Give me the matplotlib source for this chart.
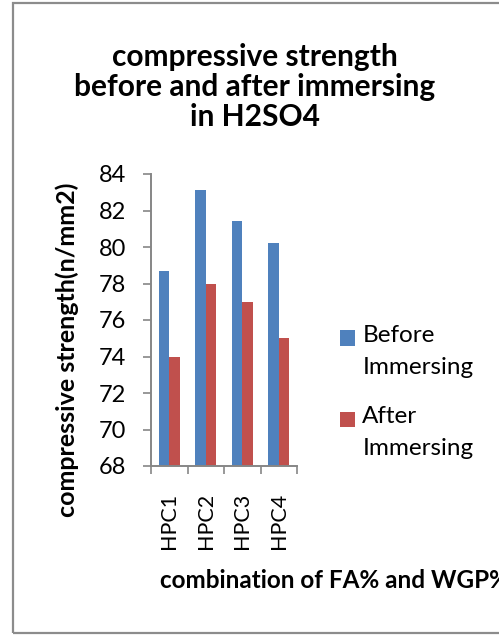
import numpy as np
import matplotlib
matplotlib.use('Agg')
import matplotlib.pyplot as plt
from matplotlib.patches import Rectangle

plt.rcParams['font.family'] = ['Lato', 'DejaVu Sans']

categories = ['HPC1', 'HPC2', 'HPC3', 'HPC4']
before = [78.7, 83.1, 81.4, 80.2]  # before immersing
after = [74.0, 78.0, 77.0, 75.0]   # after immersing
yticks = [68, 70, 72, 74, 76, 78, 80, 82, 84]

W, H = 499, 635
DPI = 100
fig = plt.figure(figsize=(W / DPI, H / DPI), dpi=DPI)

# outer chart border (right edge falls outside the picture)
fig.patches.append(Rectangle((13 / W, 1 - 633 / H), 1.0, 630 / H, transform=fig.transFigure,
                             fill=False, edgecolor='#8c8c8c', linewidth=1.6))

ax = fig.add_axes([151 / W, 1 - 466 / H, 146 / W, 292 / H])

x = np.arange(len(categories))
w = 1 / 3.5
ax.bar(x - w / 2, before, w, color='#4F81BD', label='Before\nImmersing')
ax.bar(x + w / 2, after, w, color='#C0504D', label='After\nImmersing')

ax.set_ylim(68, 84)
ax.set_xlim(-0.5, 3.5)
ax.set_yticks(yticks)
ax.set_yticklabels([str(v) for v in yticks])
ax.tick_params(axis='y', length=6, width=1.2, color='#868686', pad=12, labelsize=17)

# ticks between categories, labels at the centres
ax.set_xticks(np.arange(-0.5, 4, 1))
ax.set_xticklabels([])
ax.tick_params(axis='x', which='major', length=5.5, width=1.2, color='#868686')
ax.set_xticks(x, minor=True)
ax.set_xticklabels(categories, minor=True, rotation=90)
ax.tick_params(axis='x', which='minor', length=0, pad=19, labelsize=15.5)

for s in ['top', 'right']:
    ax.spines[s].set_visible(False)
for s in ['left', 'bottom']:
    ax.spines[s].set_color('#868686')
    ax.spines[s].set_linewidth(1.4)

leg = fig.legend(loc='upper left', bbox_to_anchor=(340 / W, 1 - 325 / H), frameon=False,
                 fontsize=17.5, handlelength=0.62, handleheight=0.62, handletextpad=0.3,
                 labelspacing=1.15, borderpad=0, borderaxespad=0)
for t in leg.get_texts():
    t.set_linespacing(1.66)

fig.canvas.draw()
# move each square up level with the first line of its two-line label
for h, t in zip(leg.legend_handles, leg.get_texts()):
    tb = t.get_window_extent()
    hb = h.get_window_extent()
    first_line = tb.y1 - tb.height / 4
    h.set_y(h.get_y() + (first_line - (hb.y0 + hb.y1) / 2) * 72 / DPI)

fig.text(255 / W, 1 - 87 / H, 'compressive strength\nbefore and after immersing\nin H2SO4',
         ha='center', va='center', fontsize=21.5, fontweight='bold', linespacing=1.1)
fig.text(67 / W, 1 - 350 / H, 'compressive strength(n/mm2)', rotation=90,
         ha='center', va='center', fontsize=18, fontweight='bold')
fig.text(160 / W, 1 - 581 / H, 'combination of FA% and WGP%', ha='left', va='center',
         fontsize=17.5, fontweight='bold')

fig.savefig('out.png', dpi=DPI)
